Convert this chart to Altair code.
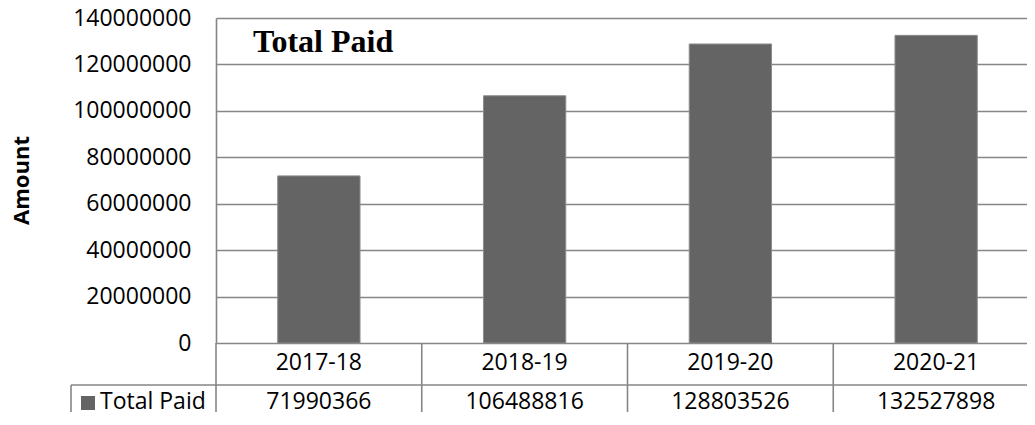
import altair as alt
import pandas as pd

categories = ["2017-18", "2018-19", "2019-20", "2020-21"]
total_paid = [71990366, 106488816, 128803526, 132527898]
y_ticks = [0, 20000000, 40000000, 60000000, 80000000, 100000000, 120000000, 140000000]
series_name = "Total Paid"

df = pd.DataFrame({"year": categories, "paid": total_paid})
df["label"] = df["paid"].astype(str)
one = pd.DataFrame({"k": [series_name]})

FONT = "Open Sans"
GRAY = "#868686"
BAR = "#646464"
W, H = 823, 325
STEP = W / len(categories)

xscale = alt.Scale(domain=categories, paddingInner=0.6, paddingOuter=0.3)
yscale = alt.Scale(domain=[0, 140000000], nice=False)

base = alt.Chart(df)

bars = base.mark_bar(color=BAR, stroke="#8c8c8c", strokeWidth=1).encode(
    x=alt.X("year:N", scale=xscale, axis=None, sort=categories),
    y=alt.Y(
        "paid:Q",
        scale=yscale,
        axis=alt.Axis(
            values=y_ticks,
            format="d",
            grid=True,
            gridColor=GRAY,
            gridWidth=1.6,
            domain=True,
            domainColor=GRAY,
            domainWidth=1.6,
            ticks=False,
            labelFont=FONT,
            labelFontSize=23,
            labelColor="black",
            labelPadding=25,
            title="Amount",
            titleFont=FONT,
            titleFontSize=22,
            titleFontWeight="bold",
            titleColor="black",
            titleAngle=-90,
            titleX=-195,
            titleY=162,
            titleAlign="center",
            titleBaseline="middle",
        ),
    ),
)

# vertical table lines at the category cell boundaries (half a step left of centre)
vlines = base.mark_rule(color=GRAY, strokeWidth=1.6, xOffset=-STEP / 2).encode(
    x=alt.X("year:N", scale=xscale, sort=categories),
    y=alt.value(H),
    y2=alt.value(H + 95),
)

hline = alt.Chart(one).mark_rule(color=GRAY, strokeWidth=1.6).encode(
    x=alt.value(-145), x2=alt.value(W + 10), y=alt.value(H + 42)
)
left_vline = alt.Chart(one).mark_rule(color=GRAY, strokeWidth=1.6).encode(
    x=alt.value(-145), y=alt.value(H + 42), y2=alt.value(H + 95)
)

cat_text = base.mark_text(font=FONT, fontSize=23, color="black", baseline="middle").encode(
    x=alt.X("year:N", scale=xscale, sort=categories),
    y=alt.value(H + 20),
    text="year:N",
)
val_text = base.mark_text(font=FONT, fontSize=23, color="black", baseline="middle").encode(
    x=alt.X("year:N", scale=xscale, sort=categories),
    y=alt.value(H + 59),
    text="label:N",
)

legend_sq = alt.Chart(one).mark_square(color=BAR, opacity=1, size=196).encode(
    x=alt.value(-128), y=alt.value(H + 60)
)
legend_txt = alt.Chart(one).mark_text(
    font=FONT, fontSize=23, color="black", align="left", baseline="middle"
).encode(x=alt.value(-116), y=alt.value(H + 59), text="k:N")

title_txt = alt.Chart(one).mark_text(
    font="Liberation Serif", fontSize=32, fontWeight="bold", color="black",
    align="left", baseline="alphabetic"
).encode(x=alt.value(37), y=alt.value(34), text="k:N")

chart = (
    alt.layer(bars, vlines, hline, left_vline, cat_text, val_text, legend_sq, legend_txt, title_txt)
    .properties(
        width=W,
        height=H,
        autosize=alt.AutoSizeParams(type="none"),
        padding={"left": 208, "top": 10, "right": -12, "bottom": 69},
        background="white",
    )
    .configure_view(stroke=None)
)

chart.save("out.html", embed_options={"renderer": "svg", "actions": False})
